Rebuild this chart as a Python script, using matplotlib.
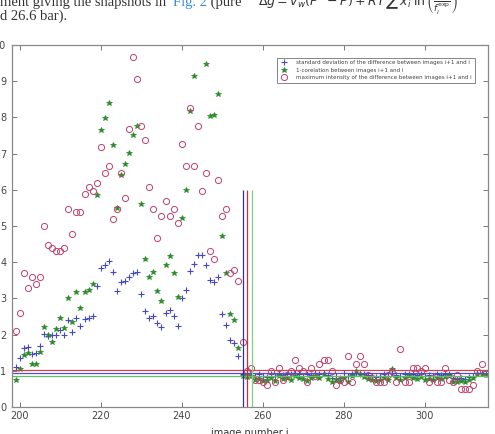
import numpy as np
import matplotlib
matplotlib.use("Agg")
import matplotlib.pyplot as plt
from matplotlib.transforms import offset_copy

# ---------------- data ----------------
image_start = 199
image_end = 315

std_diff = [1.1, 1.36, 1.64, 1.65, 1.46, 1.5, 1.68, 2.03, 1.97, 2.0,
            2.0, 2.13, 2.0, 2.4, 2.08, 2.45, 2.25, 2.44, 2.45, 2.52,
            3.35, 3.84, 3.93, 4.02, 3.72, 3.2, 3.46, 3.48, 3.6, 3.7,
            3.72, 3.13, 2.66, 2.46, 2.51, 2.32, 2.22, 2.61, 2.68, 2.52,
            2.25, 3.0, 3.22, 3.76, 3.95, 4.21, 4.19, 3.93, 3.52, 3.46,
            3.59, 2.58, 2.27, 1.84, 1.77, 1.4, 0.92,
            # 256 ..
            0.9, 0.88, 0.85, 0.9, 0.85, 0.82, 0.92, 0.85, 0.9, 0.88,
            0.9, 0.92, 0.95, 0.9, 0.85, 0.9, 0.88, 0.95, 0.92, 0.95,
            0.88, 0.8, 0.85, 0.8, 0.95, 0.85, 0.9, 0.95, 0.92, 0.9,
            0.88, 0.85, 0.82, 0.85, 0.9, 0.85, 0.95, 0.88, 0.85, 0.9,
            0.92, 0.9, 0.88, 0.9, 0.85, 0.88, 0.85, 0.9, 0.88, 0.9,
            0.92, 0.8, 0.78, 0.8, 0.78, 0.82, 0.85, 0.95, 0.95, 0.92]

one_minus_corr = [0.74, 1.06, 1.45, 1.5, 1.2, 1.2, 1.53, 2.2, 2.0, 1.79,
                  2.16, 2.45, 2.17, 3.0, 2.34, 3.19, 2.74, 3.17, 3.23, 3.4,
                  5.86, 7.64, 7.97, 8.41, 7.25, 5.49, 6.41, 6.71, 7.03, 7.51,
                  7.77, 5.6, 4.09, 3.6, 3.72, 3.2, 2.93, 3.92, 4.17, 3.71,
                  3.03, 5.23, 5.99, 8.18, 9.15, 10.4, 10.8, 9.47, 8.03, 8.08,
                  8.66, 4.73, 3.69, 2.56, 2.4, 1.64, 0.85,
                  # 256 ..
                  0.82, 0.85, 0.75, 0.78, 0.72, 0.75, 0.8, 0.72, 0.85, 0.78,
                  0.8, 0.75, 0.85, 0.8, 0.78, 0.72, 0.8, 0.85, 0.8, 0.9,
                  0.78, 0.7, 0.75, 0.72, 0.8, 0.7, 0.85, 1.0, 0.9, 0.82,
                  0.78, 0.75, 0.72, 0.75, 0.8, 0.75, 1.04, 0.8, 0.75, 0.8,
                  0.85, 0.8, 0.78, 0.82, 0.75, 0.78, 0.75, 0.8, 0.78, 0.82,
                  0.85, 0.7, 0.7, 0.72, 0.7, 0.75, 0.8, 0.9, 0.9, 0.88]

max_intensity = [2.1, 2.6, 3.7, 3.3, 3.58, 3.39, 3.58, 5.0, 4.48, 4.38,
                 4.3, 4.3, 4.38, 5.48, 4.78, 5.38, 5.38, 5.88, 6.08, 5.98,
                 6.18, 7.17, 6.47, 6.67, 5.18, 5.48, 6.47, 5.78, 7.67, 9.66,
                 9.06, 7.77, 7.38, 6.08, 5.48, 4.68, 5.28, 5.68, 5.28, 5.48,
                 5.08, 7.27, 6.67, 8.27, 6.67, 7.77, 5.98, 6.47, 4.3, 4.08,
                 6.27, 5.28, 5.48, 3.69, 3.78, 3.48, 1.8,
                 # 256 ..
                 1.0, 1.09, 0.75, 0.75, 0.7, 0.61, 1.0, 0.7, 1.09, 0.75,
                 0.88, 1.0, 1.3, 1.09, 1.0, 0.7, 1.09, 0.85, 1.2, 1.3,
                 1.3, 1.0, 0.61, 0.75, 0.7, 1.41, 0.7, 1.2, 1.41, 1.2,
                 0.88, 0.8, 0.7, 0.7, 0.7, 0.88, 1.0, 0.7, 1.6, 0.7,
                 0.7, 1.09, 1.09, 1.0, 1.09, 0.7, 0.8, 0.7, 0.7, 1.09,
                 0.75, 0.7, 0.88, 0.49, 0.49, 0.49, 0.61, 1.0, 1.2, 0.95]

threshold_max = 1.02
threshold_std = 0.95
threshold_corr = 0.86
cut_std = 255.1
cut_max = 256.1
cut_corr = 257.4
cut_height = 6.0

legend_labels = ["standard deviation of the difference between images i+1 and i",
                 "1-corelation between images i+1 and i",
                 "maximum intensity of the difference between images i+1 and i"]

# ---------------- plot ----------------
blue = "#4646c8"
green = "#2a8a2a"
red = "#c0406a"

images = np.arange(image_start, image_end + 1)

fig = plt.figure(figsize=(4.95, 4.34), dpi=100)
ax = fig.add_axes([12 / 495, 1 - 407 / 434, 476 / 495, 362 / 434])

ax.plot(images, std_diff, linestyle="none", marker="+", color=blue,
        markersize=4.5, markeredgewidth=0.8, label=legend_labels[0])
ax.plot(images, one_minus_corr, linestyle="none", marker="*", color=green,
        markersize=3.8, markeredgewidth=0.5, label=legend_labels[1])
ax.plot(images, max_intensity, linestyle="none", marker="o", markerfacecolor="none",
        markeredgecolor=red, markersize=4.4, markeredgewidth=0.7, label=legend_labels[2])

ax.axhline(threshold_max, color="#d04050", lw=0.9)
ax.axhline(threshold_std, color="#5050c0", lw=0.9)
ax.axhline(threshold_corr, color="#60c060", lw=0.9)
ax.vlines([cut_std], 0, cut_height, color="#3030a0", lw=0.9)
ax.vlines([cut_max], 0, cut_height, color="#c03040", lw=0.9)
ax.vlines([cut_corr], 0, cut_height, color="#80d080", lw=0.9)

ax.set_xlim(198.1, 315.6)
ax.set_ylim(0, 10)
ax.set_xticks([200, 220, 240, 260, 280, 300])
ax.set_yticks(range(0, 11))
ax.tick_params(direction="in", top=True, right=True, length=3.5, width=0.7,
               color="#777777", labelcolor="#444444", labelsize=7, pad=3)
ax.tick_params(axis="y", pad=4)
for s in ax.spines.values():
    s.set_color("#888888")
    s.set_linewidth(0.9)

ax.set_xlabel("image number i", fontsize=7, color="#333333", labelpad=5)

leg = ax.legend(loc="upper right", bbox_to_anchor=(0.978, 0.973), fontsize=4.0,
                frameon=True, fancybox=False, edgecolor="#666666",
                borderpad=0.5, handlelength=1.5, labelspacing=0.4, handletextpad=1.4)
leg.get_frame().set_linewidth(0.7)
for t in leg.get_texts():
    t.set_color("#444444")

# text of the page above the chart (pieces placed one after another)
serif = "Liberation Serif"
y1 = 1 - 6 / 434
y2 = 1 - 20 / 434
renderer = fig.canvas.get_renderer()
pieces = [("ment giving the snapshots in ", "#333333"),
          ("Fig. 2", "#3a8fd0"),
          (" (pure", "#333333")]
xpix = 0.0
for txt, col in pieces:
    tr = offset_copy(fig.transFigure, fig=fig, x=xpix, y=0, units="dots")
    t = fig.text(0.0, y1, txt, fontsize=10.5, family=serif, color=col,
                 va="baseline", transform=tr)
    xpix += t.get_window_extent(renderer=renderer).width + (3 if txt.endswith(" ") else 0)
fig.text(0.0, y2, "d 26.6 bar).", fontsize=10.5, family=serif,
         color="#333333", va="baseline")
fig.text(0.522, y1,
         r"$\Delta g = v_w(P^{\,s} - P) + RT\,\sum\, x_i\;\ln\left(\frac{f_i}{f_i^{\rm exp}}\right)$",
         fontsize=9, color="#333333", va="baseline")

fig.savefig("out.png", dpi=100)
